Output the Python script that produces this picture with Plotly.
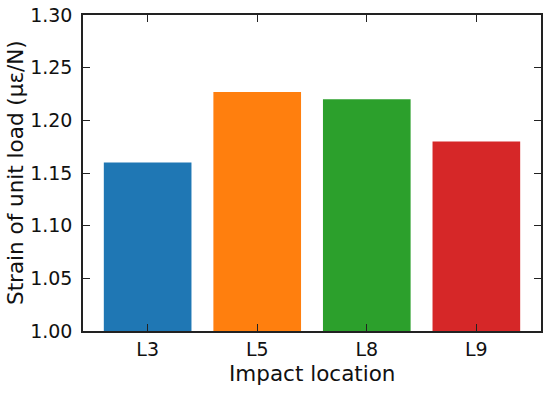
import plotly.graph_objects as go

categories = ["L3", "L5", "L8", "L9"]
values = [1.160, 1.227, 1.220, 1.180]
colors = ["#1f77b4", "#ff7f0e", "#2ca02c", "#d62728"]
y_ticks = [1.00, 1.05, 1.10, 1.15, 1.20, 1.25, 1.30]
x_title = "Impact location"
y_title = "Strain of unit load (\u03bc\u03b5/N)"

xpos = list(range(len(categories)))

fig = go.Figure()
fig.add_trace(go.Bar(x=xpos, y=values, marker=dict(color=colors, line=dict(width=0)), width=0.8))

font = "DejaVu Sans, sans-serif"
fig.update_layout(
    width=550, height=393,
    margin=dict(l=83, r=9, t=15, b=62, autoexpand=False),
    paper_bgcolor="white", plot_bgcolor="white",
    showlegend=False,
    font=dict(family=font, color="#111", size=19),
    annotations=[
        dict(text=x_title, xref="paper", yref="paper", x=0.5, y=0,
             xanchor="center", yanchor="middle", yshift=-42, showarrow=False,
             font=dict(family=font, size=21.5, color="#111")),
        dict(text=y_title, xref="paper", yref="paper", x=0, y=0.5,
             xanchor="center", yanchor="middle", xshift=-68, textangle=-90, showarrow=False,
             font=dict(family=font, size=21.5, color="#111")),
    ],
)
fig.update_xaxes(
    range=[-0.59, 3.59], automargin=False,
    tickmode="array", tickvals=xpos, ticktext=categories,
    ticks="inside", ticklen=7, tickwidth=1.3, tickcolor="#222",
    showline=True, linecolor="#222", linewidth=1.5, mirror="ticks",
    showgrid=False, zeroline=False,
    tickfont=dict(family=font, size=19), ticklabelstandoff=0, ticklabeloverflow="allow",
)
fig.update_yaxes(
    range=[1.0, 1.3], automargin=False,
    tickmode="array", tickvals=y_ticks, ticktext=[f"{v:.2f}" for v in y_ticks],
    ticks="inside", ticklen=7, tickwidth=1.3, tickcolor="#222",
    showline=True, linecolor="#222", linewidth=1.5, mirror="ticks",
    showgrid=False, zeroline=False,
    tickfont=dict(family=font, size=19), ticklabelstandoff=5, ticklabeloverflow="allow",
)
fig.write_html("out.html", config={"displayModeBar": False},
               post_script="document.body.style.margin='0';")
